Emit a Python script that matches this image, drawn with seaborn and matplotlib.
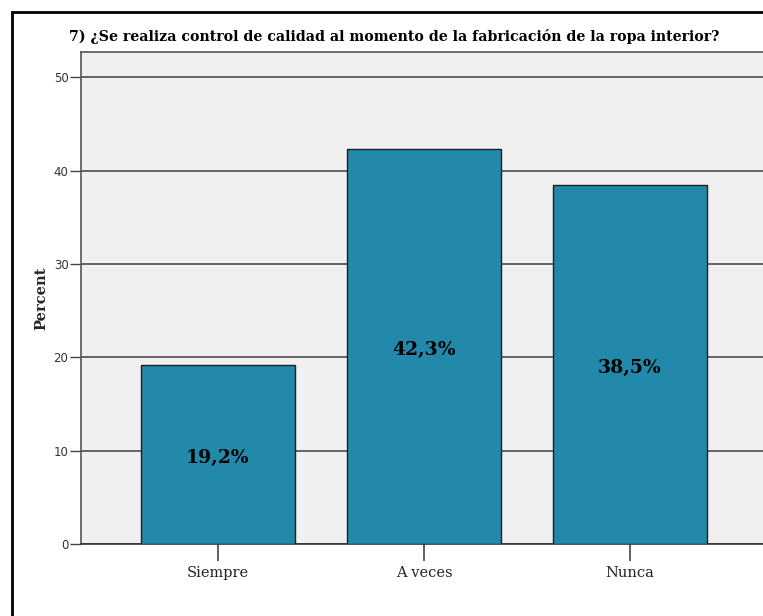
import matplotlib
matplotlib.use("Agg")
import matplotlib.pyplot as plt
import seaborn as sns
import pandas as pd
from matplotlib.patches import Rectangle

categories = ["Siempre", "A veces", "Nunca"]
percent = [19.2, 42.3, 38.5]
bar_labels = ["19,2%", "42,3%", "38,5%"]
yticks = [0, 10, 20, 30, 40, 50]
title = "7) ¿Se realiza control de calidad al momento de la fabricación de la ropa interior?"

sns.set_theme(style="white")
plt.rcParams["font.family"] = ["DejaVu Sans"]

W, H = 763, 616
fig = plt.figure(figsize=(W / 100, H / 100), dpi=100)
fig.patch.set_facecolor("white")

# outer frame (cropped on right/bottom)
fig.add_artist(Rectangle((11.5 / W, -0.1), 2.0, 1 - 11.5 / H + 0.1,
                         transform=fig.transFigure, fill=False,
                         edgecolor="black", linewidth=2))

left, right, top, bottom = 81, 767, 52, 544
ax = fig.add_axes([left / W, (H - bottom) / H, (right - left) / W, (bottom - top) / H])
ax.set_facecolor("#F0F0F0")

df = pd.DataFrame({"cat": categories, "pct": percent})
sns.barplot(data=df, x="cat", y="pct", color="#2389AA", width=0.75,
            edgecolor="#1E1E1E", linewidth=1.0, saturation=1, ax=ax, zorder=3)

ax.set_xlim(-0.665, 2.665)
ax.set_ylim(0, 52.7)
ax.set_yticks(yticks)
ax.set_yticklabels([str(t) for t in yticks], fontsize=8.5, color="#333333")
ax.yaxis.grid(True, color="#5A5A5A", linewidth=1.3, zorder=1)
ax.set_axisbelow(True)
ax.tick_params(axis="y", length=8, width=1, color="#444444", pad=1, left=True)
ax.tick_params(axis="x", length=12, width=1.2, color="#444444", pad=4, bottom=True)
ax.set_xticks(range(len(categories)))
ax.set_xticklabels(categories, fontsize=10.5, family="DejaVu Serif", color="#222222")
ax.set_xlabel("")
ax.set_ylabel("Percent", fontsize=10.5, family="DejaVu Serif", fontweight="bold",
              labelpad=4)
for s in ["left", "bottom", "top", "right"]:
    ax.spines[s].set_color("#555555")
    ax.spines[s].set_linewidth(1.2)
ax.spines["bottom"].set_color("#333333")

for i, (v, lab) in enumerate(zip(percent, bar_labels)):
    ax.text(i, v / 2 - 0.4, lab, ha="center", va="center", fontsize=13.5,
            family="DejaVu Serif", fontweight="bold", color="black", zorder=5)

fig.text(394 / W, 1 - 37 / H, title, ha="center", va="center", fontsize=10.2,
         family="DejaVu Serif", fontweight="bold", color="black")

fig.savefig("out.png", dpi=100)
